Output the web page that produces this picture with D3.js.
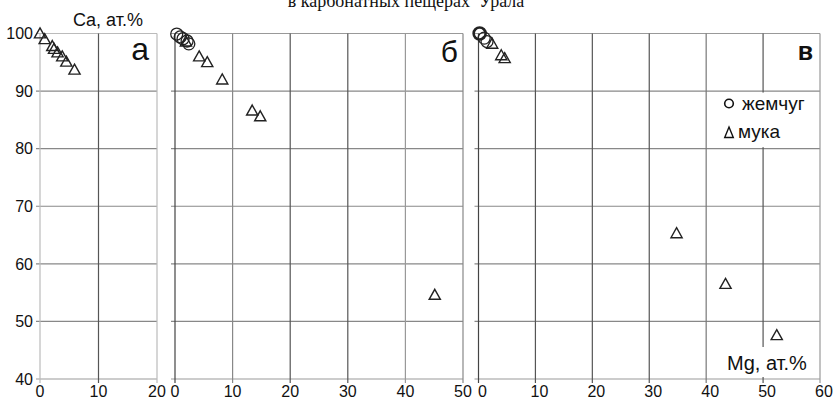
<!DOCTYPE html>
<html><head><meta charset="utf-8">
<script src="https://cdn.jsdelivr.net/npm/d3@7"></script>
<style>html,body{margin:0;padding:0;background:#fff;}svg{display:block;}</style>
</head><body>
<svg id="c" width="836" height="400"></svg>
<script>
// ---- data ----
const title = "в карбонатных пещерах  Урала";
const yTicks = [40, 50, 60, 70, 80, 90, 100];
const xTicksA = [0, 10, 20];
const xTicksB = [0, 10, 20, 30, 40, 50];
const xTicksV = [0, 10, 20, 30, 40, 50, 60];
const panelLetters = ["а", "б", "в"];
const legendLabels = ["жемчуг", "мука"];
const yAxisTitle = "Ca, ат.%";
const xAxisTitle = "Mg, ат.%";

// panel а (мука only)
const mgA_muka = [0, 0.8, 2.1, 2.4, 3.0, 3.8, 4.5, 5.9];
const caA_muka = [99.9, 98.9, 97.7, 97.2, 96.6, 95.9, 95.0, 93.6];
// panel б
const mgB_pearl = [0.3, 0.9, 1.4, 2.1, 2.4];
const caB_pearl = [99.9, 99.4, 99.1, 98.7, 98.2];
const mgB_muka = [1.9, 4.2, 5.6, 8.2, 13.4, 14.8, 45.1];
const caB_muka = [98.5, 95.9, 94.9, 91.9, 86.5, 85.5, 54.5];
// panel в
const mgV_pearl = [0.2, 1.0, 1.5];
const caV_pearl = [100, 99.2, 98.6];
const mgV_muka = [2.4, 4.0, 4.6, 34.8, 43.4, 52.4];
const caV_muka = [98.1, 96.1, 95.6, 65.2, 56.4, 47.5];

// ---- drawing ----
const svg = d3.select("#c");
const FONT = "'Liberation Sans', Arial, sans-serif";
const y = d3.scaleLinear().domain([40, 100]).range([379, 33.5]);

svg.append("text").attr("x", 406).attr("y", 7)
  .attr("text-anchor", "middle").attr("font-family", "'Liberation Serif', 'Times New Roman', serif")
  .attr("font-size", 18).attr("fill", "#111").style("white-space", "pre").text(title);

const panels = [
  {range: [40, 157], ticks: xTicksA, vcol: ["#bbb", "#555", "#bbb"], lab: 0, letter: {x: 149, y: 60, size: 32, weight: "normal"},
   pearl: null, muka: [mgA_muka, caA_muka]},
  {range: [175, 463], ticks: xTicksB, vcol: ["#444", "#888", "#555", "#555", "#999", "#888"], lab: 0, letter: {x: 458, y: 62, size: 30, weight: "normal"},
   pearl: [mgB_pearl, caB_pearl], muka: [mgB_muka, caB_muka]},
  {range: [478.5, 820], ticks: xTicksV, vcol: ["#444", "#555", "#555", "#555", "#777", "#555", "#999"], lab: 4, letter: {x: 813, y: 60, size: 25, weight: "bold"},
   pearl: [mgV_pearl, caV_pearl], muka: [mgV_muka, caV_muka]}
];

const tri = "M0,-6.2L5.6,3.8L-5.6,3.8Z";

panels.forEach((p, i) => {
  const dom = [p.ticks[0], p.ticks[p.ticks.length - 1]];
  const x = d3.scaleLinear().domain(dom).range(p.range);
  const g = svg.append("g");
  // horizontal grid
  yTicks.forEach(v => {
    g.append("line").attr("x1", p.range[0] - 4).attr("x2", p.range[1])
      .attr("y1", y(v)).attr("y2", y(v))
      .attr("stroke", v === 100 ? (i === 0 ? "#bbb" : "#999") : (v === 40 ? "#999" : "#888")).attr("stroke-width", 1.2);
  });
  // vertical grid
  p.ticks.forEach((t, k) => {
    g.append("line").attr("x1", x(t)).attr("x2", x(t))
      .attr("y1", y(100)).attr("y2", y(40) + 4)
      .attr("stroke", p.vcol[k]).attr("stroke-width", 1.2);
    svg.append("text").attr("x", x(t) + p.lab).attr("y", 397)
      .attr("text-anchor", "middle").attr("font-family", FONT).attr("font-size", 16)
      .attr("fill", "#111").text(t);
  });
  // panel letter
  svg.append("text").attr("x", p.letter.x).attr("y", p.letter.y).attr("text-anchor", "end")
    .attr("font-family", FONT).attr("font-size", p.letter.size).attr("font-weight", p.letter.weight)
    .attr("fill", "#111").text(panelLetters[i]);
  p.g = g; p.x = x;
});

// y tick labels (panel а)
yTicks.forEach(v => {
  svg.append("text").attr("x", 33).attr("y", y(v)).attr("dy", "0.36em")
    .attr("text-anchor", "end").attr("font-family", FONT).attr("font-size", 16)
    .attr("fill", "#111").text(v);
});
svg.append("text").attr("x", 73).attr("y", 26).attr("font-family", FONT)
  .attr("font-size", 18).attr("fill", "#111").text(yAxisTitle);

// legend box & x axis title (white backgrounds)
svg.append("rect").attr("x", 713).attr("y", y(90) + 1.5).attr("width", 105).attr("height", y(80) - y(90) - 3).attr("fill", "#fff");
svg.append("rect").attr("x", 725).attr("y", 347).attr("width", 88).attr("height", 30).attr("fill", "#fff");
svg.append("text").attr("x", 727).attr("y", 370).attr("font-family", FONT)
  .attr("font-size", 20).attr("fill", "#111").text(xAxisTitle);

svg.append("circle").attr("cx", 729).attr("cy", 103.5).attr("r", 4.3)
  .attr("fill", "none").attr("stroke", "#111").attr("stroke-width", 1.6);
svg.append("text").attr("x", 742).attr("y", 110).attr("font-family", FONT)
  .attr("font-size", 19).attr("fill", "#111").text(legendLabels[0]);
svg.append("path").attr("d", "M0,-5.5L4.3,5L-4.3,5Z").attr("transform", "translate(729,132.5)")
  .attr("fill", "none").attr("stroke", "#111").attr("stroke-width", 1.4);
svg.append("text").attr("x", 738).attr("y", 138).attr("font-family", FONT)
  .attr("font-size", 19).attr("fill", "#111").text(legendLabels[1]);

// markers
panels.forEach((p, i) => {
  if (p.pearl) {
    const [mx, cy] = p.pearl;
    svg.append("g").selectAll("circle").data(d3.range(mx.length)).join("circle")
      .attr("cx", k => p.x(mx[k])).attr("cy", k => y(cy[k])).attr("r", 6)
      .attr("fill", "none").attr("stroke", "#222")
      .attr("stroke-width", k => (i === 2 && k === 0) ? 2.6 : 1.3);
  }
  const [mx, cy] = p.muka;
  svg.append("g").selectAll("path").data(d3.range(mx.length)).join("path")
    .attr("d", tri).attr("transform", k => `translate(${p.x(mx[k])},${y(cy[k])})`)
    .attr("fill", "none").attr("stroke", "#222").attr("stroke-width", 1.4);
});
</script>
</body></html>
